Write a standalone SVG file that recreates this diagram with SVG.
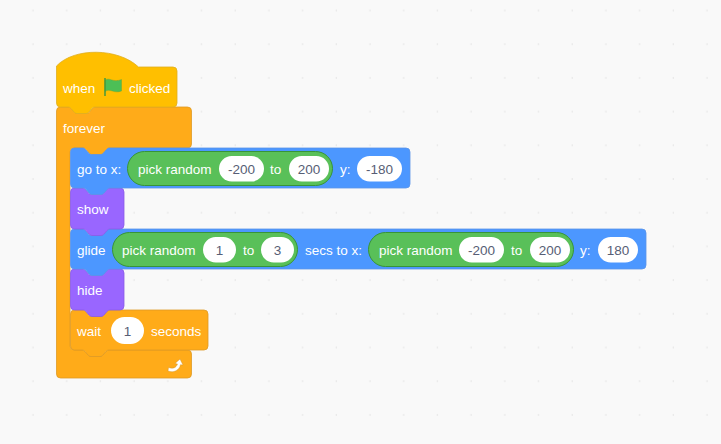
<svg xmlns="http://www.w3.org/2000/svg" width="721" height="444" viewBox="0 0 721 444">
<style>
text{font-family:"Liberation Sans",Arial,sans-serif;font-size:13.5px;fill:#fff}
.v{fill:#575E75;text-anchor:middle}
.m{fill:#4C97FF;stroke:#5a94e8;stroke-width:.8}
.l{fill:#9966FF;stroke:#8a5be6;stroke-width:.8}
.c{fill:#FFAB19;stroke:#DE9A25;stroke-width:.8}
.h{fill:#FFBF00;stroke:#E0AE20;stroke-width:.8}
.g{fill:#59C059;stroke:#389438}
.i{fill:#fff}
</style>
<defs>
<pattern id="grid" width="33.7" height="33.7" patternUnits="userSpaceOnUse" x="0" y="10.500"><circle cx="33" cy="0" r="0.7" fill="#dedede"/><circle cx="33" cy="33.7" r="0.7" fill="#dedede"/></pattern>
</defs>
<rect width="721" height="444" fill="#f9f9f9"/>
<rect width="721" height="444" fill="url(#grid)"/>
<g id="forever">
<path class="c" d="M56.500,111 a4,4 0 0 1 4,-4 h8 c1.500,0 2,.5 3,1.500 l3,3.500 c.7,.7 1.500,1.500 3,1.500 h9 c1.500,0 2.300,-.8 3,-1.500 l3,-3.500 c1,-1 1.500,-1.500 3,-1.500 H187.500 a4,4 0 0 1 4,4 V144 a4,4 0 0 1 -4,4 H110 c-1.500,0 -2,.5 -3,1.500 l-3,3.500 c-.7,.7 -1.500,1.500 -3,1.500 h-9 c-1.500,0 -2.300,-.8 -3,-1.500 l-3,-3.500 c-1,-1 -1.500,-1.500 -3,-1.500 H74 a4,4 0 0 0 -4,4 V346 a4,4 0 0 0 4,4 H82 c1.500,0 2,.5 3,1.500 l3,3.500 c.7,.7 1.500,1.500 3,1.500 h9 c1.500,0 2.300,-.8 3,-1.500 l3,-3.500 c1,-1 1.500,-1.500 3,-1.500 H187.500 a4,4 0 0 1 4,4 V374 a4,4 0 0 1 -4,4 H60.500 a4,4 0 0 1 -4,-4 z"/>
<text x="63" y="133">forever</text>
<path d="M168.500,367.500 c4.500,1.500 7.500,.5 9,-3.500 l-2.500,-.5 l5,-4.500 l3,6 l-2.500,-.3 c-1,5.500 -7,8.500 -12.500,6.300 z" fill="#fff" stroke="#C98A1C" stroke-width="0.4"/>
</g>
<g id="when-clicked">
<path class="h" d="M56.500,66 c18,-19 62,-18 82,1 H173 a4,4 0 0 1 4,4 V103 a4,4 0 0 1 -4,4 H95 c-1.500,0 -2,.5 -3,1.500 l-3,3.500 c-.7,.7 -1.500,1.500 -3,1.500 h-9 c-1.500,0 -2.300,-.8 -3,-1.500 l-3,-3.500 c-1,-1 -1.500,-1.500 -3,-1.500 H60.500 a4,4 0 0 1 -4,-4 z"/>
<text x="63" y="93">when</text>
<path d="M105,80 c5,-3 8,3 16.500,-.5 v11.500 c-8,3 -11,-3 -16.500,.5 z" fill="#4CBF56" stroke="#45993D" stroke-width="0.3"/>
<path d="M105,78 V96" stroke="#45993D" stroke-width="1.500" fill="none"/>
<text x="129" y="93">clicked</text>
</g>
<g id="wait">
<path class="c" d="M70.500,314 a4,4 0 0 1 4,-4 h8 c1.500,0 2,.5 3,1.500 l3,3.500 c.7,.7 1.500,1.500 3,1.500 h9 c1.500,0 2.300,-.8 3,-1.500 l3,-3.500 c1,-1 1.500,-1.500 3,-1.500 H204 a4,4 0 0 1 4,4 V346 a4,4 0 0 1 -4,4 H109 c-1.500,0 -2,.5 -3,1.500 l-3,3.500 c-.7,.7 -1.500,1.500 -3,1.500 h-9 c-1.500,0 -2.300,-.8 -3,-1.500 l-3,-3.500 c-1,-1 -1.500,-1.500 -3,-1.500 H74.500 a4,4 0 0 1 -4,-4 z"/>
<text x="77" y="336">wait</text>
<rect class="i" x="111" y="317" width="33" height="27" rx="13.500"/>
<text class="v" x="127.500" y="336">1</text>
<text x="151" y="336">seconds</text>
</g>
<g id="hide">
<path class="l" d="M70.500,273 a4,4 0 0 1 4,-4 h8 c1.500,0 2,.5 3,1.500 l3,3.500 c.7,.7 1.500,1.500 3,1.500 h9 c1.500,0 2.300,-.8 3,-1.500 l3,-3.500 c1,-1 1.500,-1.500 3,-1.500 H120 a4,4 0 0 1 4,4 V306 a4,4 0 0 1 -4,4 H110 c-1.500,0 -2,.5 -3,1.500 l-3,3.500 c-.7,.7 -1.500,1.500 -3,1.500 h-9 c-1.500,0 -2.300,-.8 -3,-1.500 l-3,-3.500 c-1,-1 -1.500,-1.500 -3,-1.500 H74.500 a4,4 0 0 1 -4,-4 z"/>
<text x="77" y="295">hide</text>
</g>
<g id="glide">
<path class="m" d="M70.500,233 a4,4 0 0 1 4,-4 h8 c1.500,0 2,.5 3,1.500 l3,3.500 c.7,.7 1.500,1.500 3,1.500 h9 c1.500,0 2.300,-.8 3,-1.500 l3,-3.500 c1,-1 1.500,-1.500 3,-1.500 H642 a4,4 0 0 1 4,4 V265 a4,4 0 0 1 -4,4 H110 c-1.500,0 -2,.5 -3,1.500 l-3,3.500 c-.7,.7 -1.500,1.500 -3,1.500 h-9 c-1.500,0 -2.300,-.8 -3,-1.500 l-3,-3.500 c-1,-1 -1.500,-1.500 -3,-1.500 H74.500 a4,4 0 0 1 -4,-4 z"/>
<text x="77" y="255">glide</text>
<rect class="g" x="112.500" y="232.500" width="185" height="34" rx="17"/>
<text x="122" y="255">pick random</text>
<rect class="i" x="203" y="237" width="33" height="25.500" rx="12.750"/>
<text class="v" x="219.500" y="255">1</text>
<text x="243" y="255">to</text>
<rect class="i" x="261" y="237" width="33" height="25.500" rx="12.750"/>
<text class="v" x="277.500" y="255">3</text>
<text x="305" y="255">secs to x:</text>
<rect class="g" x="368.500" y="232.500" width="205" height="34" rx="17"/>
<text x="379" y="255">pick random</text>
<rect class="i" x="459" y="237" width="45" height="25.500" rx="12.750"/>
<text class="v" x="481.500" y="255">-200</text>
<text x="511" y="255">to</text>
<rect class="i" x="530" y="237" width="40" height="25.500" rx="12.750"/>
<text class="v" x="550" y="255">200</text>
<text x="580" y="255">y:</text>
<rect class="i" x="598" y="237" width="40" height="25.500" rx="12.750"/>
<text class="v" x="618" y="255">180</text>
</g>
<g id="show">
<path class="l" d="M70.500,192 a4,4 0 0 1 4,-4 h8 c1.500,0 2,.5 3,1.500 l3,3.500 c.7,.7 1.500,1.500 3,1.500 h9 c1.500,0 2.300,-.8 3,-1.500 l3,-3.500 c1,-1 1.500,-1.500 3,-1.500 H120 a4,4 0 0 1 4,4 V225 a4,4 0 0 1 -4,4 H110 c-1.500,0 -2,.5 -3,1.500 l-3,3.500 c-.7,.7 -1.500,1.500 -3,1.500 h-9 c-1.500,0 -2.300,-.8 -3,-1.500 l-3,-3.500 c-1,-1 -1.500,-1.500 -3,-1.500 H74.500 a4,4 0 0 1 -4,-4 z"/>
<text x="77" y="214">show</text>
</g>
<g id="go-to">
<path class="m" d="M70.500,152 a4,4 0 0 1 4,-4 h8 c1.500,0 2,.5 3,1.500 l3,3.500 c.7,.7 1.500,1.500 3,1.500 h9 c1.500,0 2.300,-.8 3,-1.500 l3,-3.500 c1,-1 1.500,-1.500 3,-1.500 H406 a4,4 0 0 1 4,4 V184 a4,4 0 0 1 -4,4 H110 c-1.500,0 -2,.5 -3,1.500 l-3,3.500 c-.7,.7 -1.500,1.500 -3,1.500 h-9 c-1.500,0 -2.300,-.8 -3,-1.500 l-3,-3.500 c-1,-1 -1.500,-1.500 -3,-1.500 H74.500 a4,4 0 0 1 -4,-4 z"/>
<text x="77" y="174">go to x:</text>
<rect class="g" x="127.500" y="151.500" width="205" height="34" rx="17"/>
<text x="138" y="174">pick random</text>
<rect class="i" x="219" y="156" width="45" height="25.500" rx="12.750"/>
<text class="v" x="241.500" y="174">-200</text>
<text x="270" y="174">to</text>
<rect class="i" x="289" y="156" width="40" height="25.500" rx="12.750"/>
<text class="v" x="309" y="174">200</text>
<text x="340" y="174">y:</text>
<rect class="i" x="357" y="156" width="45" height="25.500" rx="12.750"/>
<text class="v" x="379.500" y="174">-180</text>
</g>
</svg>
